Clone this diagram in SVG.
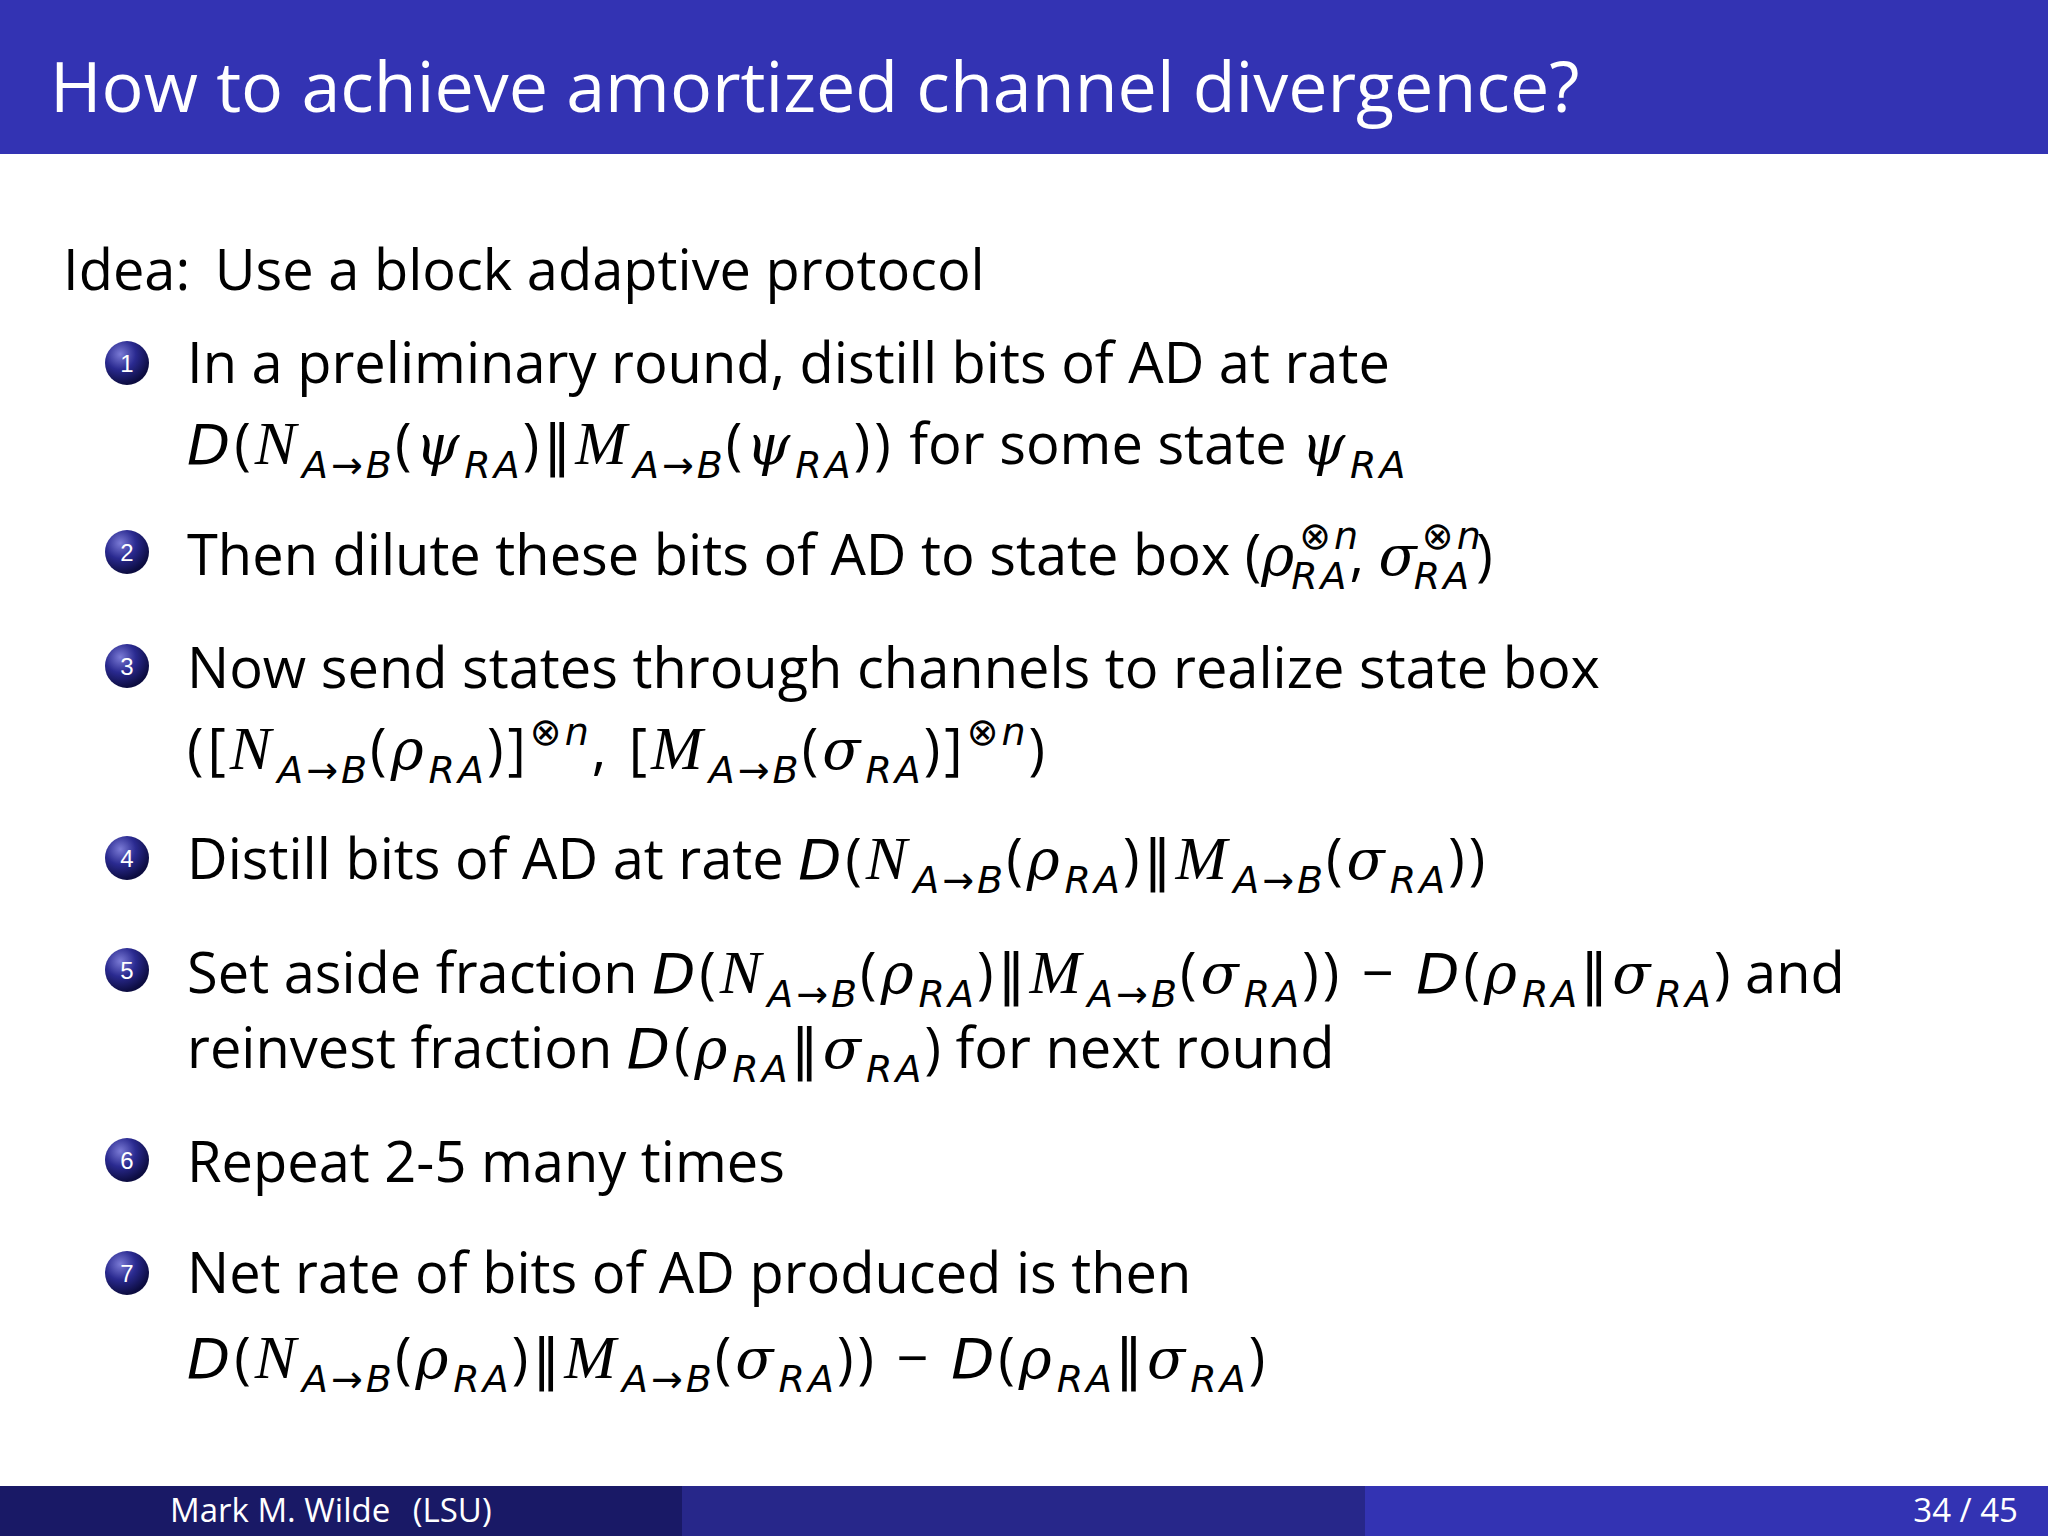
<svg xmlns="http://www.w3.org/2000/svg" width="2048" height="1536" viewBox="0 0 2048 1536">
<defs>
<radialGradient id="bg" cx="0.35" cy="0.3" r="0.7"><stop offset="0" stop-color="#7b7bd6"/><stop offset="0.5" stop-color="#2a2a90"/><stop offset="1" stop-color="#0c0c40"/></radialGradient>
</defs>
<style>
.t{font-family:"Open Sans","DejaVu Sans",sans-serif;font-size:56px;fill:#000}
.i{font-family:"DejaVu Sans",sans-serif;font-style:italic;letter-spacing:4px}
.g{font-family:"DejaVu Serif",serif;font-style:italic;letter-spacing:5px}
.c{font-family:"Liberation Serif",serif;font-style:italic;font-size:62px;letter-spacing:6px}
.s{font-family:"DejaVu Sans",sans-serif;font-size:38px;font-style:italic;letter-spacing:3px}
.p{letter-spacing:4px}
.b{fill:url(#bg)}
.n{font-family:"Liberation Sans",sans-serif;font-size:24px;fill:#fff;text-anchor:middle}
.f{font-family:"Open Sans","DejaVu Sans",sans-serif;font-size:33px;fill:#fff}
</style>
<rect width="2048" height="1536" fill="#fff"/>
<rect width="2048" height="154" fill="#3333b3"/>
<text x="50" y="112" font-family="Open Sans, DejaVu Sans, sans-serif" font-size="70" fill="#fff">How to achieve amortized channel divergence?</text>
<g id="footer">
<rect x="0" y="1486" width="682" height="50" fill="#191966"/>
<rect x="682" y="1486" width="683" height="50" fill="#27278a"/>
<rect x="1365" y="1486" width="683" height="50" fill="#3333b3"/>
<text class="f" x="170" y="1522">Mark M. Wilde <tspan dx="14">(LSU)</tspan></text>
<text class="f" x="2018" y="1522" text-anchor="end">34 / 45</text>
</g>
<text class="t" x="63" y="290">Idea: <tspan dx="10">Use a block adaptive protocol</tspan></text>
<g id="bullets">
<circle class="b" cx="127" cy="363" r="22"/><text class="n" x="127" y="372">1</text>
<circle class="b" cx="127" cy="552" r="22"/><text class="n" x="127" y="561">2</text>
<circle class="b" cx="127" cy="666" r="22"/><text class="n" x="127" y="675">3</text>
<circle class="b" cx="127" cy="858" r="22"/><text class="n" x="127" y="867">4</text>
<circle class="b" cx="127" cy="970" r="22"/><text class="n" x="127" y="979">5</text>
<circle class="b" cx="127" cy="1160" r="22"/><text class="n" x="127" y="1169">6</text>
<circle class="b" cx="127" cy="1273" r="22"/><text class="n" x="127" y="1282">7</text>
</g>
<g id="item1">
<text class="t" x="187" y="383">In a preliminary round, distill bits of AD at rate</text>
<text class="t" x="187" y="464"><tspan class="i">D</tspan><tspan class="p">(</tspan><tspan class="c">N</tspan><tspan class="s" dy="14">A→B</tspan><tspan class="p" dy="-14">(</tspan><tspan class="g">ψ</tspan><tspan class="s" dy="14">RA</tspan><tspan class="p" dy="-14">)‖</tspan><tspan class="c">M</tspan><tspan class="s" dy="14">A→B</tspan><tspan class="p" dy="-14">(</tspan><tspan class="g">ψ</tspan><tspan class="s" dy="14">RA</tspan><tspan class="p" dy="-14">))</tspan> for some state <tspan class="g">ψ</tspan><tspan class="s" dy="14">RA</tspan></text>
</g>
<g id="item2">
<text class="t" x="187" y="575">Then dilute these bits of AD to state box (<tspan class="g">ρ</tspan><tspan class="s" dy="-26">⊗n</tspan><tspan class="s" dx="-70" dy="40">RA</tspan><tspan dy="-14">, </tspan><tspan class="g">σ</tspan><tspan class="s" dy="-26">⊗n</tspan><tspan class="s" dx="-70" dy="40">RA</tspan><tspan dy="-14" dx="4">)</tspan></text>
</g>
<g id="item3">
<text class="t" x="187" y="688">Now send states through channels to realize state box</text>
<text class="t" x="187" y="769"><tspan class="p">([</tspan><tspan class="c">N</tspan><tspan class="s" dy="14">A→B</tspan><tspan class="p" dy="-14">(</tspan><tspan class="g">ρ</tspan><tspan class="s" dy="14">RA</tspan><tspan class="p" dy="-14">)]</tspan><tspan class="s" dy="-24">⊗n</tspan><tspan class="p" dy="24">, [</tspan><tspan class="c">M</tspan><tspan class="s" dy="14">A→B</tspan><tspan class="p" dy="-14">(</tspan><tspan class="g">σ</tspan><tspan class="s" dy="14">RA</tspan><tspan class="p" dy="-14">)]</tspan><tspan class="s" dy="-24">⊗n</tspan><tspan dy="24">)</tspan></text>
</g>
<g id="item4">
<text class="t" x="187" y="879">Distill bits of AD at rate <tspan class="i">D</tspan><tspan class="p">(</tspan><tspan class="c">N</tspan><tspan class="s" dy="14">A→B</tspan><tspan class="p" dy="-14">(</tspan><tspan class="g">ρ</tspan><tspan class="s" dy="14">RA</tspan><tspan class="p" dy="-14">)‖</tspan><tspan class="c">M</tspan><tspan class="s" dy="14">A→B</tspan><tspan class="p" dy="-14">(</tspan><tspan class="g">σ</tspan><tspan class="s" dy="14">RA</tspan><tspan class="p" dy="-14">))</tspan></text>
</g>
<g id="item5">
<text class="t" x="187" y="993">Set aside fraction <tspan class="i">D</tspan><tspan class="p">(</tspan><tspan class="c">N</tspan><tspan class="s" dy="14">A→B</tspan><tspan class="p" dy="-14">(</tspan><tspan class="g">ρ</tspan><tspan class="s" dy="14">RA</tspan><tspan class="p" dy="-14">)‖</tspan><tspan class="c">M</tspan><tspan class="s" dy="14">A→B</tspan><tspan class="p" dy="-14">(</tspan><tspan class="g">σ</tspan><tspan class="s" dy="14">RA</tspan><tspan class="p" dy="-14">)) − </tspan><tspan class="i">D</tspan><tspan class="p">(</tspan><tspan class="g">ρ</tspan><tspan class="s" dy="14">RA</tspan><tspan class="p" dy="-14">‖</tspan><tspan class="g">σ</tspan><tspan class="s" dy="14">RA</tspan><tspan dy="-14">) and</tspan></text>
<text class="t" x="187" y="1068">reinvest fraction <tspan class="i">D</tspan><tspan class="p">(</tspan><tspan class="g">ρ</tspan><tspan class="s" dy="14">RA</tspan><tspan class="p" dy="-14">‖</tspan><tspan class="g">σ</tspan><tspan class="s" dy="14">RA</tspan><tspan dy="-14">) for next round</tspan></text>
</g>
<g id="item6">
<text class="t" x="187" y="1182">Repeat 2-5 many times</text>
</g>
<g id="item7">
<text class="t" x="187" y="1293">Net rate of bits of AD produced is then</text>
<text class="t" x="187" y="1378"><tspan class="i">D</tspan><tspan class="p">(</tspan><tspan class="c">N</tspan><tspan class="s" dy="14">A→B</tspan><tspan class="p" dy="-14">(</tspan><tspan class="g">ρ</tspan><tspan class="s" dy="14">RA</tspan><tspan class="p" dy="-14">)‖</tspan><tspan class="c">M</tspan><tspan class="s" dy="14">A→B</tspan><tspan class="p" dy="-14">(</tspan><tspan class="g">σ</tspan><tspan class="s" dy="14">RA</tspan><tspan class="p" dy="-14">)) − </tspan><tspan class="i">D</tspan><tspan class="p">(</tspan><tspan class="g">ρ</tspan><tspan class="s" dy="14">RA</tspan><tspan class="p" dy="-14">‖</tspan><tspan class="g">σ</tspan><tspan class="s" dy="14">RA</tspan><tspan dy="-14">)</tspan></text>
</g>
</svg>
